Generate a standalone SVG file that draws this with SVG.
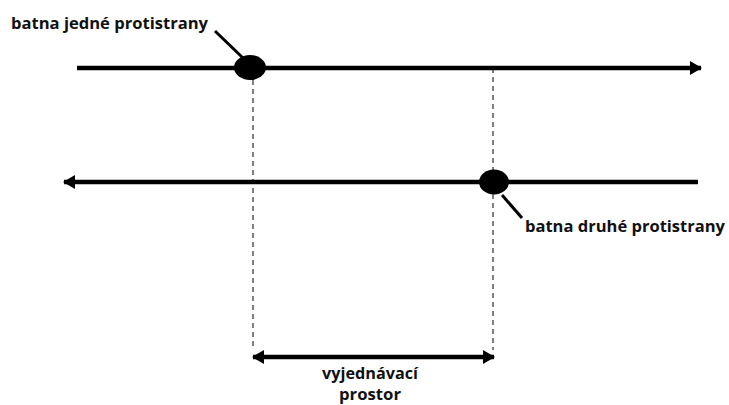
<svg xmlns="http://www.w3.org/2000/svg" width="729" height="405" viewBox="0 0 729 405">
<style>
.ln{stroke:#000;stroke-width:4.5;fill:none}
.dash{stroke:#000;stroke-width:1;stroke-dasharray:5,4;fill:none}
.lead{stroke:#000;stroke-width:3;fill:none}
.t{font-family:"Open Sans","Liberation Sans",sans-serif;font-weight:bold;font-size:16.5px;fill:#111}
.s{font-size:15.5px}
</style>
<defs>
<marker id="ah" viewBox="0 0 12 14" refX="11" refY="7" markerWidth="12" markerHeight="14" orient="auto-start-reverse" markerUnits="userSpaceOnUse">
<path d="M0,0 L12,7 L0,14 z" fill="#000"/>
</marker>
</defs>
<rect width="729" height="405" fill="#fff"/>
<g id="connectors">
<line class="ln" x1="77" y1="68" x2="701" y2="68" marker-end="url(#ah)"/>
<line class="ln" x1="698" y1="182" x2="64" y2="182" marker-end="url(#ah)"/>
<line class="dash" x1="253" y1="80" x2="253" y2="350"/>
<line class="dash" x1="493" y1="68" x2="493" y2="350"/>
<line class="ln" x1="253" y1="357" x2="494" y2="357" marker-start="url(#ah)" marker-end="url(#ah)"/>
<line class="lead" x1="215" y1="31" x2="243" y2="58"/>
<line class="lead" x1="502" y1="195" x2="522" y2="218"/>
</g>
<g id="batna1">
<ellipse cx="250" cy="67.5" rx="16" ry="12.5" fill="#000"/>
<text class="t" x="11" y="29" textLength="197" lengthAdjust="spacingAndGlyphs">batna jedné protistrany</text>
</g>
<g id="batna2">
<ellipse cx="494" cy="182" rx="15" ry="12.5" fill="#000"/>
<text class="t" x="525" y="232" textLength="200" lengthAdjust="spacingAndGlyphs">batna druhé protistrany</text>
</g>
<g id="prostor">
<text class="t s" x="370" y="379" text-anchor="middle" textLength="96" lengthAdjust="spacingAndGlyphs">vyjednávací</text>
<text class="t s" x="370" y="400" text-anchor="middle" textLength="62" lengthAdjust="spacingAndGlyphs">prostor</text>
</g>
</svg>
